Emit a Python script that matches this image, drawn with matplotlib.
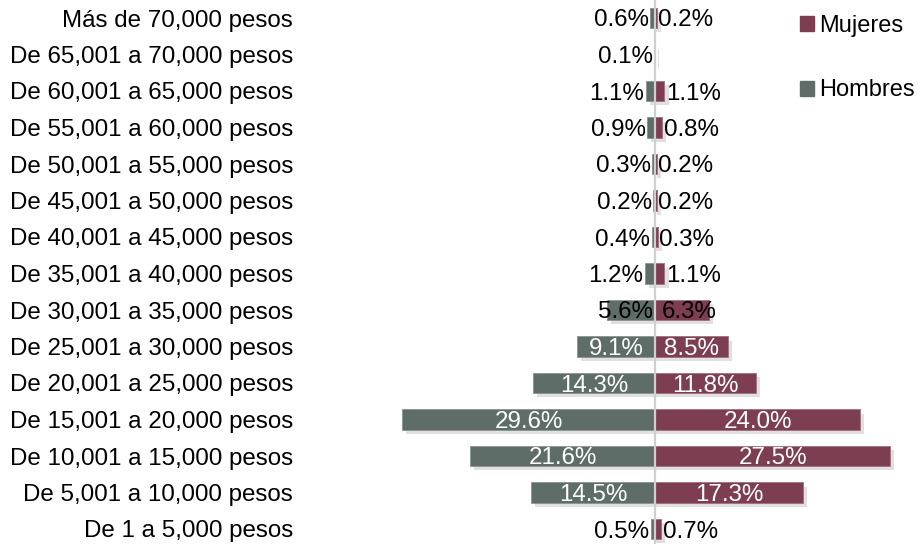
import numpy as np
import matplotlib.pyplot as plt
import matplotlib.patheffects as pe
from matplotlib.patches import Patch

plt.rcParams["font.family"] = ["Liberation Sans", "DejaVu Sans"]

# ============================
# Data (top to bottom as in the chart)
# ============================
categories = [
    "Más de 70,000 pesos",
    "De 65,001 a 70,000 pesos",
    "De 60,001 a 65,000 pesos",
    "De 55,001 a 60,000 pesos",
    "De 50,001 a 55,000 pesos",
    "De 45,001 a 50,000 pesos",
    "De 40,001 a 45,000 pesos",
    "De 35,001 a 40,000 pesos",
    "De 30,001 a 35,000 pesos",
    "De 25,001 a 30,000 pesos",
    "De 20,001 a 25,000 pesos",
    "De 15,001 a 20,000 pesos",
    "De 10,001 a 15,000 pesos",
    "De 5,001 a 10,000 pesos",
    "De 1 a 5,000 pesos",
]
hombres = [0.6, 0.1, 1.1, 0.9, 0.3, 0.2, 0.4, 1.2, 5.6, 9.1, 14.3, 29.6, 21.6, 14.5, 0.5]
mujeres = [0.2, 0.0, 1.1, 0.8, 0.2, 0.2, 0.3, 1.1, 6.3, 8.5, 11.8, 24.0, 27.5, 17.3, 0.7]

c_h = "#5f6d68"
c_m = "#7d3e52"
fs = 17.4

fig = plt.figure(figsize=(9.2, 5.44), dpi=100)
ax = fig.add_axes([300 / 920, 0, 600 / 920, 1])

n = len(categories)
y = np.arange(n)[::-1]
shadow = [pe.SimplePatchShadow(offset=(3, -3), shadow_rgbFace="#999999", alpha=0.3), pe.Normal()]

bh = ax.barh(y, -np.array(hombres), height=0.55, color=c_h, edgecolor="#8a9490", linewidth=0.6)
bm = ax.barh(y, mujeres, height=0.55, color=c_m, edgecolor="#a07080", linewidth=0.6)
for b in list(bh) + list(bm):
    if b.get_width() != 0:
        b.set_path_effects(shadow)

ax.axvline(0, color="#cfcfcf", lw=1.6, zorder=5)

# value labels
lab = dict(va="center_baseline", fontsize=fs, zorder=6)
for yi, h, m in zip(y, hombres, mujeres):
    if h >= 8:
        ax.text(-h / 2, yi, f"{h:.1f}%", ha="center", color="white", **lab)
    elif h >= 5:
        ax.text(-h / 2 - 0.6, yi, f"{h:.1f}%", ha="center", color="black", **lab)
    elif h > 0:
        ax.text(-h - 0.15, yi, f"{h:.1f}%", ha="right", color="black", **lab)
    if m >= 8:
        ax.text(m / 2, yi, f"{m:.1f}%", ha="center", color="white", **lab)
    elif m >= 5:
        ax.text(m / 2 + 0.9, yi, f"{m:.1f}%", ha="center", color="black", **lab)
    elif m > 0:
        ax.text(m + 0.2, yi, f"{m:.1f}%", ha="left", color="black", **lab)

ax.set_xlim(-355 / 8.55, 245 / 8.55)
ax.set_ylim(-15 / 36.5, (n - 1) + 18 / 36.5)
ax.set_yticks(y)
ax.set_yticklabels(categories, fontsize=fs, va="center_baseline")
ax.tick_params(axis="y", length=0, pad=5)
ax.set_xticks([])
for s in ax.spines.values():
    s.set_visible(False)

handles = [Patch(color=c_m, label="Mujeres"), Patch(color=c_h, label="Hombres")]
fig.legend(handles=handles, loc="upper left", bbox_to_anchor=(800 / 920, 1 - 15 / 544),
           frameon=False, fontsize=17, handlelength=0.6, handleheight=0.6,
           handletextpad=0.2, labelspacing=1.8, borderpad=0, borderaxespad=0)

plt.savefig("out.png", dpi=100)
